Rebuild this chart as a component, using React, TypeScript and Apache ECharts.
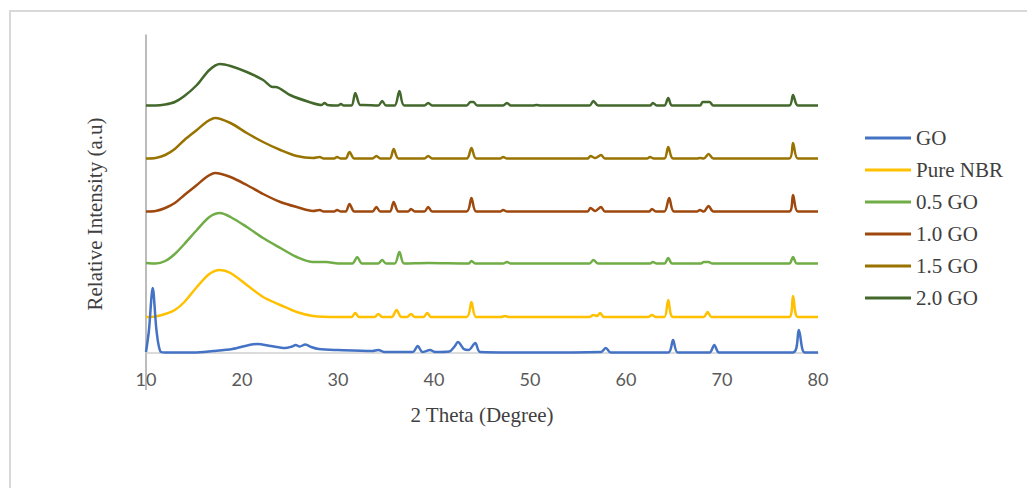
import React, { useEffect, useRef } from "react";
import * as echarts from "echarts";

// 2θ range and tick labels
const X_MIN = 10;
const X_MAX = 80;
const X_STEP = 10;

const seriesNames = ["GO", "Pure NBR", "0.5 GO", "1.0 GO", "1.5 GO", "2.0 GO"];
const seriesColors = ["#4472C4", "#FFC000", "#70AD47", "#9E480E", "#997300", "#43682B"];
// vertical stacking offsets (a.u.) applied to each pattern
const seriesOffsets = [0, 36, 89, 141, 194, 247];

// [2θ, intensity above own baseline]
const goData = [[10,1],[10.3,22],[10.7,65],[11.1,22],[11.5,1.5],[12,0.5],[15,0.5],[17,2],[19,4],[21.6,9],[23,7],[24.5,5],[25.2,6.5],[25.6,8],[26,6.5],[26.6,8.5],[27.2,6],[28,4],[30,3],[33.6,2],[34.2,3],[34.8,1],[37.8,1],[38.3,7],[38.8,1],[39.6,3],[40.1,1],[41.6,1.5],[42.1,6],[42.5,11],[43.1,4],[43.6,3],[44.3,10],[44.8,1],[50,0.5],[57.4,1],[57.9,5],[58.4,0.5],[64.4,0.5],[64.9,13],[65.4,0.5],[68.7,0.5],[69.2,8],[69.7,0.5],[77.4,0.5],[78.0,23],[78.6,0.5],[80,0.5]];

const nbrData = [[10,0],[11,0.5],[12,3],[13,7],[14,15],[15.3,30],[16.6,43],[17.7,47],[18.8,44],[20.5,32],[22.2,20],[24,12],[25.7,5],[27.4,1],[30,0],[31.4,0],[31.8,4],[32.2,0],[33.8,0],[34.2,3],[34.6,0],[35.6,0],[36.1,7],[36.6,0],[37.2,0],[37.6,3],[38,0],[38.9,0],[39.3,4],[39.7,0],[43.4,0],[43.9,15],[44.4,0],[47,0],[47.4,1],[47.8,0],[56.2,0],[56.6,2],[57,1],[57.3,4],[57.7,0],[62.3,0],[62.7,2],[63.1,0],[64,0],[64.4,17],[64.9,0],[68.1,0],[68.5,5],[68.9,0],[77,0],[77.4,21],[77.9,0],[80,0]];

const go05Data = [[10,1],[11,0.5],[12,3],[13,10],[14,20],[15.3,34],[16.6,47],[17.7,51],[18.8,47],[20.5,37],[22.2,26],[24,16],[25.7,7],[27.4,2],[28.8,2],[30,0.5],[31.5,0.5],[32,7],[32.5,0.5],[34.2,0.5],[34.6,4],[35,0.5],[35.9,0.5],[36.4,12],[36.9,0.5],[39.4,1],[43.6,0.5],[43.9,3],[44.3,0.5],[47.2,0.5],[47.6,2],[48,0.5],[56.2,0.5],[56.6,4],[57.1,0.5],[62.5,0.5],[62.8,2],[63.2,0.5],[64,0.5],[64.4,6],[64.8,0.5],[67.8,0.5],[68.1,2],[68.6,2],[69,0.5],[77,0.5],[77.4,7],[77.8,0.5],[80,0.5]];

const go10Data = [[10,0.5],[11,1],[12,4],[13,9],[14,17],[15.3,27],[16.3,35],[17.2,39],[18.8,35],[20.5,27],[22.2,18],[24,10],[25.7,5],[27.4,1],[28.1,2],[28.5,0.5],[29.6,0.5],[29.9,2],[30.3,0.5],[30.8,0.5],[31.2,8],[31.7,0.5],[33.6,0.5],[34,5],[34.4,0.5],[35.4,0.5],[35.8,10],[36.3,0.5],[37.3,0.5],[37.6,3],[38,0.5],[39,0.5],[39.4,5],[39.8,0.5],[43.4,0.5],[43.9,14],[44.4,0.5],[46.9,0.5],[47.2,2],[47.6,0.5],[56,0.5],[56.3,4],[56.8,1],[57.4,5],[57.8,0.5],[62.4,0.5],[62.7,3],[63.1,0.5],[64,0.5],[64.5,14],[65,0.5],[67.4,0.5],[67.7,2],[68.1,0.5],[68.6,6],[69.1,0.5],[77,0.5],[77.4,17],[77.9,0.5],[80,0.5]];

const go15Data = [[10,0.5],[11,1],[12,4],[13,10],[14,19],[15.3,29],[16.3,37],[17.2,41],[18.8,36],[20.5,26],[22.2,17],[24,9],[25.7,3],[27.4,1],[28.1,2],[28.5,0.5],[29.6,0.5],[29.9,2],[30.3,0.5],[30.8,0.5],[31.2,7],[31.7,0.5],[33.6,0.5],[34,3],[34.4,0.5],[35.4,0.5],[35.8,10],[36.3,0.5],[39,0.5],[39.4,3],[39.8,0.5],[43.4,0.5],[43.9,11],[44.4,0.5],[46.9,0.5],[47.2,2],[47.6,0.5],[56,0.5],[56.3,3],[56.8,1],[57.4,4],[57.8,0.5],[62.2,0.5],[62.5,2],[62.9,0.5],[64,0.5],[64.4,12],[64.9,0.5],[67.4,0.5],[67.7,1],[68.1,0.5],[68.6,5],[69.1,0.5],[77,0.5],[77.4,16],[77.9,0.5],[80,0.5]];

const go20Data = [[10,0.5],[11,0.5],[12,1.5],[13,4],[14,10],[15.3,21],[16.6,36],[17.7,42],[18.8,40],[20.5,34],[22.2,26],[23.2,19],[23.5,19],[25,11],[27,4],[28.3,1],[28.6,3],[28.9,1],[30,0.5],[30.3,2],[30.6,0.5],[31.4,0.5],[31.8,13],[32.3,1],[32.6,1],[34.2,0.5],[34.6,5],[35,0.5],[35.9,0.5],[36.4,15],[36.9,0.5],[39,0.5],[39.4,3],[39.8,0.5],[43.4,0.5],[43.8,4],[44.1,4],[44.5,0.5],[47.2,0.5],[47.6,3],[48,0.5],[50.3,0.5],[50.7,1],[51.1,0.5],[56.2,0.5],[56.6,5],[57.1,0.5],[62.5,0.5],[62.8,3],[63.2,0.5],[64,0.5],[64.4,8],[64.8,0.5],[67.7,0.5],[68,4],[68.7,4],[69.1,0.5],[77,0.5],[77.4,11],[77.9,0.5],[80,0.5]];

const allData = [goData, nbrData, go05Data, go10Data, go15Data, go20Data];

export default function App() {
  const ref = useRef<HTMLDivElement>(null);
  useEffect(() => {
    if (!ref.current) return;
    const chart = echarts.init(ref.current, null, { renderer: "svg" });
    const serif = "'Liberation Serif', 'Times New Roman', serif";
    chart.setOption({
      animation: false,
      backgroundColor: "#ffffff",
      grid: { left: 146, right: 209, top: 35, bottom: 135, containLabel: false },
      legend: {
        orient: "vertical",
        left: 860,
        top: 122,
        icon: "rect",
        itemWidth: 46,
        itemHeight: 3,
        itemGap: 10,
        data: seriesNames,
        textStyle: { fontFamily: serif, fontSize: 21, color: "#404040", lineHeight: 22 },
      },
      xAxis: {
        type: "value",
        min: X_MIN,
        max: X_MAX,
        interval: X_STEP,
        name: "2 Theta (Degree)",
        nameLocation: "middle",
        nameGap: 51,
        nameTextStyle: { fontFamily: serif, fontSize: 21, color: "#404040" },
        axisLine: { show: true, lineStyle: { color: "#d0d0d0", width: 1.5 } },
        axisTick: { show: false },
        splitLine: { show: false },
        axisLabel: { fontFamily: "Lato, sans-serif", fontSize: 18, color: "#595959", margin: 17 },
      },
      yAxis: {
        type: "value",
        min: 0,
        max: 318,
        axisLine: { show: true, lineStyle: { color: "#a6a6a6", width: 1.5 } },
        axisTick: { show: false },
        axisLabel: { show: false },
        splitLine: { show: false },
      },
      graphic: [
        {
          type: "rect",
          shape: { x: 10, y: 11, width: 1100, height: 600 },
          style: { fill: "none", stroke: "#d9d9d9", lineWidth: 2 },
          silent: true,
        },
        {
          type: "line",
          shape: { x1: 146, y1: 353, x2: 146, y2: 390 },
          style: { stroke: "#a6a6a6", lineWidth: 1.5 },
          silent: true,
        },
        {
          type: "text",
          x: 95,
          y: 214,
          rotation: Math.PI / 2,
          style: {
            text: "Relative Intensity (a.u)",
            fontFamily: serif,
            fontSize: 21,
            fill: "#404040",
            align: "center",
            verticalAlign: "middle",
          },
        },
      ],
      series: seriesNames.map((name, i) => ({
        name,
        type: "line",
        showSymbol: false,
        symbol: "none",
        smooth: 0.3,
        color: seriesColors[i],
        lineStyle: { width: 2.5, color: seriesColors[i] },
        data: allData[i].map(([x, y]) => [x, y + seriesOffsets[i]]),
        z: 10 - i,
      })),
    });
    return () => chart.dispose();
  }, []);
  return (
    <div
      ref={ref}
      style={{ position: "fixed", left: 0, top: 0, width: 1027, height: 488 }}
    />
  );
}
